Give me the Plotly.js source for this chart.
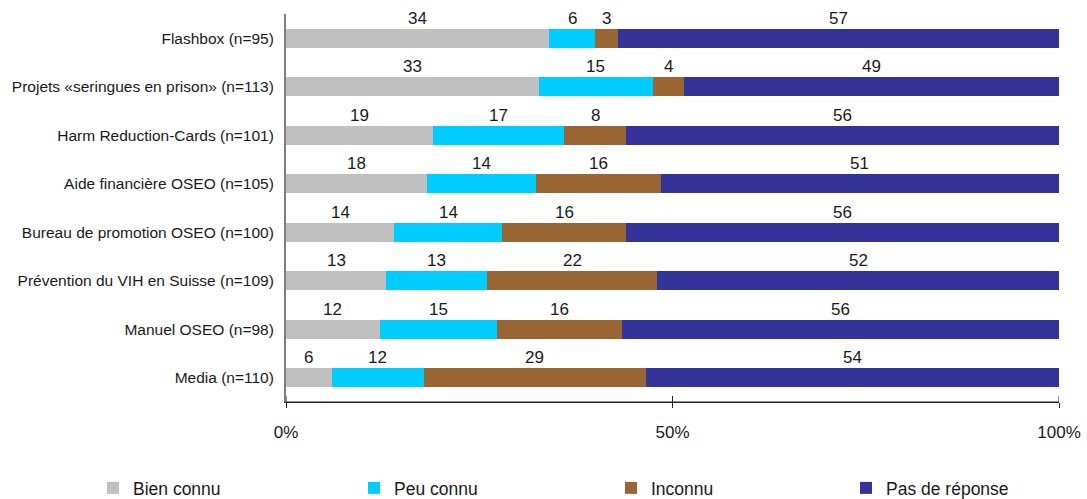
<!DOCTYPE html>
<html>
<head>
<meta charset="utf-8">
<script src="https://cdn.plot.ly/plotly-3.0.1.min.js"></script>
<style>html,body{margin:0;padding:0;background:#fff;}#chart{width:1087px;height:499px;}</style>
</head>
<body>
<div id="chart"></div>
<script>
const categories = [
  "Flashbox (n=95)",
  "Projets «seringues en prison» (n=113)",
  "Harm Reduction-Cards (n=101)",
  "Aide financière OSEO (n=105)",
  "Bureau de promotion OSEO (n=100)",
  "Prévention du VIH en Suisse (n=109)",
  "Manuel OSEO (n=98)",
  "Media (n=110)"
];
const bienConnu   = [34, 33, 19, 18, 14, 13, 12, 6];
const peuConnu    = [6, 15, 17, 14, 14, 13, 15, 12];
const inconnu     = [3, 4, 8, 16, 16, 22, 16, 29];
const pasReponse  = [57, 49, 56, 51, 56, 52, 56, 54];
const seriesNames = ["Bien connu", "Peu connu", "Inconnu", "Pas de réponse"];
const xTickVals = [0, 50, 100];
const xTickText = ["0%", "50%", "100%"];

const seriesValues = [bienConnu, peuConnu, inconnu, pasReponse];
const colors = ["#C0C0C0", "#00CCFF", "#996633", "#333399"];
const legendIds = ["legend", "legend2", "legend3", "legend4"];
const FONT = "Liberation Sans, Arial, sans-serif";

const traces = seriesValues.map((vals, i) => ({
  type: "bar",
  orientation: "h",
  name: seriesNames[i],
  y: categories,
  x: vals,
  marker: {color: colors[i], line: {width: 0}},
  width: 0.4,
  legend: legendIds[i],
  hoverinfo: "skip"
}));

// data labels above each segment, positioned from the normalized stack
const annotations = [];
categories.forEach((cat, j) => {
  const total = seriesValues.reduce((s, arr) => s + arr[j], 0);
  let cum = 0;
  seriesValues.forEach((arr) => {
    const v = arr[j];
    const center = (cum + v / 2) / total * 100;
    cum += v;
    annotations.push({
      x: center, y: cat, xref: "x", yref: "y",
      text: String(v), showarrow: false, yshift: 20,
      font: {family: FONT, size: 17, color: "#1a1a1a"}
    });
  });
});

const plotL = 286, plotR = 1059, plotT = 14, plotB = 402;
const pw = plotR - plotL, ph = plotB - plotT;
const markerLefts = [110, 371, 628, 863];
const legends = {};
legendIds.forEach((id, i) => {
  legends[id] = {
    orientation: "h",
    x: (markerLefts[i] - 17 - plotL) / pw,
    xanchor: "left",
    y: (plotB - 488) / ph,
    yanchor: "middle",
    font: {family: FONT, size: 17.5, color: "#1a1a1a"},
    bgcolor: "rgba(0,0,0,0)",
    borderwidth: 0
  };
});

// axis line and inner halves of the crossing tick marks
const shapes = [{
  type: "line", xref: "paper", yref: "paper",
  x0: 0, x1: 1, y0: 0, y1: 0,
  line: {color: "#222", width: 1}
}].concat(xTickVals.map(v => ({
  type: "line", xref: "x", yref: "paper",
  x0: v, x1: v, y0: 0, y1: 6 / ph,
  line: {color: "#222", width: 1}
})));

const layout = Object.assign({
  width: 1087, height: 499,
  margin: {l: plotL, r: 1087 - plotR, t: plotT, b: 499 - plotB, pad: 0, autoexpand: false},
  paper_bgcolor: "#ffffff",
  plot_bgcolor: "#ffffff",
  barmode: "stack",
  barnorm: "percent",
  showlegend: true,
  font: {family: FONT, color: "#1a1a1a"},
  xaxis: {
    range: [0, 100],
    tickvals: xTickVals, ticktext: xTickText,
    showgrid: false, zeroline: false,
    showline: true, linecolor: "#222", linewidth: 1,
    ticks: "outside", ticklen: 5, tickcolor: "#222", tickwidth: 1,
    ticklabelstandoff: 10,
    tickfont: {family: FONT, size: 17, color: "#1a1a1a"},
    fixedrange: true
  },
  yaxis: {
    autorange: false, range: [7.5, -0.5],
    type: "category",
    showgrid: false, zeroline: false,
    showline: true, linecolor: "#808080", linewidth: 2,
    ticks: "", ticklabelstandoff: 7,
    tickfont: {family: FONT, size: 15.5, color: "#1a1a1a"},
    fixedrange: true
  },
  shapes: shapes,
  annotations: annotations
}, legends);

Plotly.newPlot("chart", traces, layout, {displayModeBar: false, staticPlot: true});
</script>
</body>
</html>
